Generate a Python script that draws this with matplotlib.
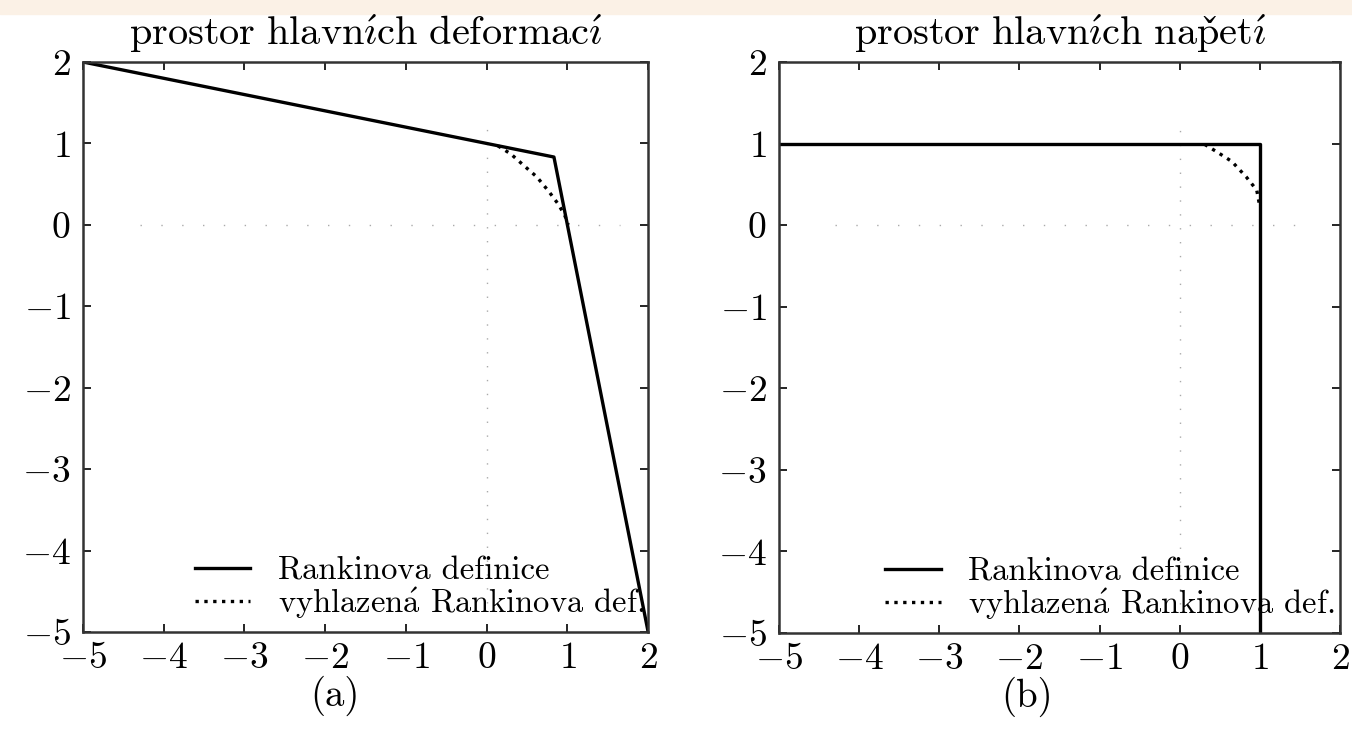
import numpy as np
import matplotlib

matplotlib.use("Agg")
import matplotlib.pyplot as plt  # noqa: E402
from matplotlib.patches import Rectangle  # noqa: E402

plt.rcParams["font.family"] = ["cmr10", "DejaVu Serif"]
plt.rcParams["mathtext.fontset"] = "cm"
plt.rcParams["axes.formatter.use_mathtext"] = True

# (a) principal strain space
rank_a_x = [-5.0, 0.833, 2.0]
rank_a_y = [2.0, 0.833, -5.0]
smooth_a_x = [0.14, 0.30, 0.47, 0.62, 0.77, 0.89, 0.97, 1.01]
smooth_a_y = [0.97, 0.87, 0.72, 0.59, 0.41, 0.25, 0.11, 0.0]

# (b) principal stress space
rank_b_x = [-5.0, 1.0, 1.0]
rank_b_y = [1.0, 1.0, -5.0]
smooth_b_x = [0.31, 0.46, 0.65, 0.83, 0.96, 1.0]
smooth_b_y = [0.99, 0.90, 0.78, 0.59, 0.43, 0.22]

# accents through mathtext, cmr10 has no accented glyphs
TITLES = [r"$\mathrm{prostor\ hlavn\acute{\imath}ch\ deformac\acute{\imath}}$",
          r"$\mathrm{prostor\ hlavn\acute{\imath}ch\ nap\check{e}t\acute{\imath}}$"]
CAPTIONS = ["(a)", "(b)"]
LABELS = ["Rankinova definice", r"vyhlazen$\mathrm{\acute{a}}$ Rankinova def."]
TICKS = np.arange(-5, 3)

fig = plt.figure(figsize=(13.52, 7.39), dpi=100)
fig.patches.append(Rectangle((0, 0.981), 1, 0.019, transform=fig.transFigure,
                             color="#fbf1e6", zorder=-1))

axes = [fig.add_axes([0.0614, 0.1448, 0.418, 0.7713]),
        fig.add_axes([0.5762, 0.1434, 0.415, 0.7727])]
data = [(rank_a_x, rank_a_y, smooth_a_x, smooth_a_y),
        (rank_b_x, rank_b_y, smooth_b_x, smooth_b_y)]
leg_x = [0.198, 0.189]
cap_x = [0.446, 0.442]

for ax, (rx, ry, sx, sy), title, cap, lx, cx in zip(axes, data, TITLES, CAPTIONS, leg_x, cap_x):
    ax.axvline(0, ymin=0.05, ymax=0.9, color="#aaaaaa", lw=1, ls=(0, (1, 9)))
    ax.axhline(0, xmin=0.1, xmax=0.95, color="#aaaaaa", lw=1, ls=(0, (1, 14)))
    ax.plot(rx, ry, "-", color="black", lw=2.4, label=LABELS[0])
    ax.plot(sx, sy, ":", color="black", lw=2.4, label=LABELS[1])
    ax.set_xlim(-5, 2); ax.set_ylim(-5, 2)
    ax.set_xticks(TICKS); ax.set_yticks(TICKS)
    ax.tick_params(direction="in", length=6, width=1.2, top=True, right=True,
                   labelsize=27, pad=9)
    ax.tick_params(axis="x", pad=7)
    for s in ax.spines.values():
        s.set_linewidth(1.8); s.set_color("#333333")
    ax.set_title(title, fontsize=29, pad=12)
    ax.text(cx, -0.112, cap, transform=ax.transAxes, ha="center", va="center", fontsize=28)
    ax.legend(loc="lower left", bbox_to_anchor=(lx, 0.02), frameon=False, fontsize=23.5,
              handlelength=1.7, handletextpad=0.85, labelspacing=0.0,
              borderpad=0, borderaxespad=0)

fig.savefig("out.png", dpi=100)
